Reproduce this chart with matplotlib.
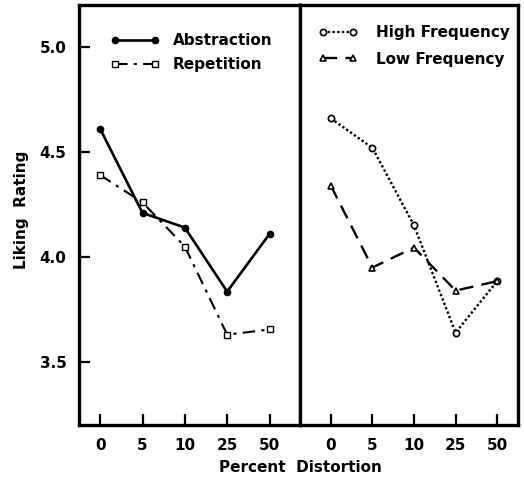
import matplotlib
matplotlib.use("Agg")
import matplotlib.pyplot as plt

plt.rcParams['font.family'] = ['DejaVu Sans']

categories = ["0", "5", "10", "25", "50"]
abstraction = [4.61, 4.21, 4.14, 3.835, 4.11]
repetition = [4.39, 4.26, 4.05, 3.63, 3.655]
high_freq = [4.66, 4.52, 4.15, 3.64, 3.885]
low_freq = [4.34, 3.95, 4.045, 3.84, 3.885]
yticks = [3.5, 4.0, 4.5, 5.0]
ytick_labels = ["3.5", "4.0", "4.5", "5.0"]

fig = plt.figure(figsize=(5.24, 4.84), dpi=100)
axL = fig.add_axes([79/524, 1-425/484, (300-79)/524, 420/484])
axR = fig.add_axes([300/524, 1-425/484, (518-300)/524, 420/484])

x = list(range(len(categories)))
lw_spine = 2.4
fs = 11

axL.plot(x, abstraction, color='black', lw=1.9, marker='o', ms=4.5,
         mfc='black', mec='black', label='Abstraction')
axL.plot(x, repetition, color='black', lw=1.5, dashes=(6, 3, 1.5, 3),
         marker='s', ms=4, mfc='white', mec='black', mew=1.0, label='Repetition')

axR.plot(x, high_freq, color='black', lw=1.7, dashes=(1.0, 1.0),
         marker='o', ms=4.5, mfc='white', mec='black', mew=1.2, label='High Frequency')
axR.plot(x, low_freq, color='black', lw=1.7, dashes=(6, 3.5),
         marker='^', ms=5, mfc='white', mec='black', mew=1.2, label='Low Frequency')

axL.set_xlim(-0.5, 4.72)
axR.set_xlim(-0.74, 4.5)
for ax in (axL, axR):
    ax.set_ylim(3.2, 5.2)
    ax.set_xticks(x)
    ax.set_xticklabels(categories, fontsize=fs, fontweight='bold')
    ax.tick_params(axis='x', direction='in', length=8, width=1.6, pad=9)
    for s in ax.spines.values():
        s.set_linewidth(lw_spine)

axL.set_yticks(yticks)
axL.set_yticklabels(ytick_labels, fontsize=fs, fontweight='bold')
axL.tick_params(axis='y', direction='in', length=8, width=1.6, pad=9, right=False)
axR.set_yticks([])

legL = axL.legend(loc='upper left', bbox_to_anchor=(0.08, 0.965), frameon=False,
                  numpoints=2, handlelength=3.2, handletextpad=0.9,
                  labelspacing=0.55, prop={'size': 11, 'weight': 'bold'})
legR = axR.legend(loc='upper left', bbox_to_anchor=(0.02, 0.985), frameon=False,
                  numpoints=2, handlelength=2.6, handletextpad=1.2,
                  labelspacing=0.75, prop={'size': 11, 'weight': 'bold'})

fig.text(300/524, 1-467/484, "Percent  Distortion", ha='center', va='center',
         fontsize=11, fontweight='bold')
fig.text(22/524, 1-210/484, "Liking  Rating", ha='center', va='center',
         rotation=90, fontsize=11, fontweight='bold')

fig.savefig("out.png", dpi=100)
